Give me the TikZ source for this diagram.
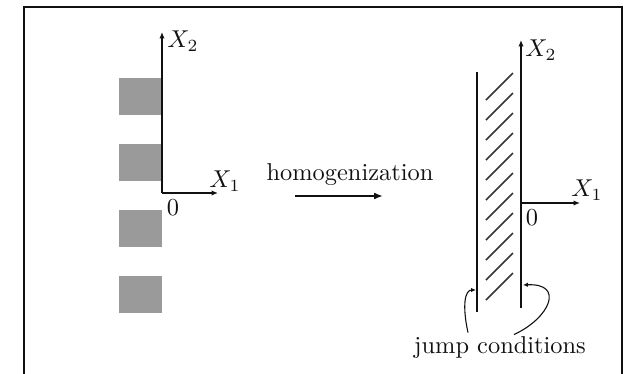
\documentclass[tikz,border=0pt]{standalone}
\usepackage{tikz}
\usepackage{amsmath}
\usetikzlibrary{arrows.meta, positioning, calc}
\definecolor{cell}{HTML}{9A9A9A}
\definecolor{ink}{HTML}{111111}

\begin{document}
\begin{tikzpicture}[x=0.41pt, y=-0.41pt, >={Latex[length=2.6pt, width=2.2pt]},
    axis/.style={->, ink, line width=0.7pt},
    wall/.style={ink, line width=0.7pt},
    hatch/.style={ink!85, line width=0.7pt},
    cellbox/.style={fill=cell, draw=none},
    lbl/.style={inner sep=0pt, text=ink}]
  \useasboundingbox (0,0) rectangle (631,374);

  % frame, open at the bottom
  \draw[ink, line width=0.9pt] (24,374) -- (24,7) -- (622,7) -- (622,374);

  % periodic inclusions along the interface
  \coordinate (O) at (162,193);
  \foreach \y in {78,144,210,276}
    \fill[cellbox] (119,\y) rectangle (162,\y+37);
  \draw[axis] (O) -- (162,32) coordinate (X2);
  \draw[axis] (O) -- (218,193) coordinate (X1);
  \node[lbl] (x2) at (183,41) {$X_2$};
  \node[lbl] (x1) at (225,181) {$X_1$};
  \node[lbl] (o)  at (173,208) {$0$};

  % homogenization step
  \node[lbl] (hom) at (350,175) {homogenization};
  \coordinate (ha) at (295,196);
  \coordinate (hb) at (383,196);
  \draw[->, ink, line width=0.8pt, >={Latex[length=3.6pt, width=2.8pt]}] (ha) -- (hb);

  % homogenized interface layer
  \coordinate (P) at (521,203);
  \draw[wall] (477,72) coordinate (wt) -- (477,312) coordinate (wb);
  \draw[wall] (521,308) -- (P);
  \draw[axis] (P) -- (521,40) coordinate (Y2);
  \draw[axis] (P) -- (580,203) coordinate (Y1);
  \foreach \t in {73,93,...,273}
    \draw[hatch] (486,\t+27) -- (513,\t);
  \node[lbl] (y2) at (541,50) {$X_2$};
  \node[lbl] (y1) at (587,190) {$X_1$};
  \node[lbl] (p)  at (532,218) {$0$};

  % jump conditions on both walls
  \node[lbl] (jc) at (500,348) {jump conditions};
  \coordinate (jl) at (476,290);
  \coordinate (jr) at (523,285);
  \draw[->, ink, line width=0.45pt, >={Latex[length=2pt, width=1.8pt]}]
    ($(jc.north)+(-32,-4)$) .. controls (462,305) and (465,290) .. (jl);
  \draw[->, ink, line width=0.45pt, >={Latex[length=2pt, width=1.8pt]}]
    ($(jc.north)+(14,-2)$) .. controls (550,318) and (565,283) .. (jr);
\end{tikzpicture}
\end{document}
